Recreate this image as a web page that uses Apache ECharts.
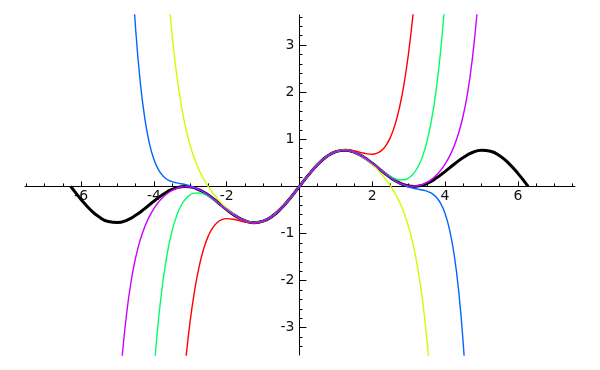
<!DOCTYPE html>
<html>
<head>
<meta charset="utf-8">
<script src="https://cdn.jsdelivr.net/npm/echarts@6/dist/echarts.min.js"></script>
<style>html,body{margin:0;padding:0;background:#fff}#c{width:600px;height:370px}</style>
</head>
<body>
<div id="c"></div>
<script>
// ---- data ----
var xMajorTicks = [-6, -4, -2, 2, 4, 6];
var xMinorTicks = [-7.5,-7,-6.5,-5.5,-5,-4.5,-3.5,-3,-2.5,-1.5,-1,-0.5,0.5,1,1.5,2.5,3,3.5,4.5,5,5.5,6.5,7,7.5];
var yMajorTicks = [-3, -2, -1, 1, 2, 3];
var yMinorTicks = [-3.4,-3.2,-2.8,-2.6,-2.4,-2.2,-1.8,-1.6,-1.4,-1.2,-0.8,-0.6,-0.4,-0.2,0.2,0.4,0.6,0.8,1.2,1.4,1.6,1.8,2.2,2.4,2.6,2.8,3.2,3.4,3.6];

var blackX = [-6.2832,-6.25,-6,-5.75,-5.5,-5.25,-5,-4.75,-4.5,-4.25,-4,-3.75,-3.5,-3.25,-3.1416,-3,-2.75,-2.5,-2.25,-2,-1.75,-1.5,-1.25,-1,-0.75,-0.5,-0.25,0,0.25,0.5,0.75,1,1.25,1.5,1.75,2,2.25,2.5,2.75,3,3.1416,3.25,3.5,3.75,4,4.25,4.5,4.75,5,5.25,5.5,5.75,6,6.25,6.2832];
var blackY = [0,-0.0332,-0.2766,-0.4904,-0.6521,-0.7468,-0.7682,-0.7198,-0.6141,-0.4710,-0.3149,-0.1712,-0.0625,-0.0059,0,-0.0100,-0.0742,-0.1887,-0.3355,-0.4913,-0.6307,-0.7299,-0.7696,-0.7385,-0.6343,-0.4645,-0.2455,0,0.2455,0.4645,0.6343,0.7385,0.7696,0.7299,0.6307,0.4913,0.3355,0.1887,0.0742,0.0100,0,0.0059,0.0625,0.1712,0.3149,0.4710,0.6141,0.7198,0.7682,0.7468,0.6521,0.4904,0.2766,0.0332,0];

var redX = [-3.25,-3.125,-3,-2.875,-2.75,-2.625,-2.5,-2.375,-2.25,-2.125,-2,-1.75,-1.5,-1.25,-1,-0.75,-0.5,-0.25,0,0.25,0.5,0.75,1,1.25,1.5,1.75,2,2.125,2.25,2.375,2.5,2.625,2.75,2.875,3,3.125,3.25];
var redY = [-4.7576,-3.6925,-2.8453,-2.1844,-1.6811,-1.3092,-1.0453,-0.8684,-0.7598,-0.7029,-0.6833,-0.7083,-0.7569,-0.7773,-0.7401,-0.6345,-0.4645,-0.2455,0,0.2455,0.4645,0.6345,0.7401,0.7773,0.7569,0.7083,0.6833,0.7029,0.7598,0.8684,1.0453,1.3092,1.6811,2.1844,2.8453,3.6925,4.7576];

var yellowX = [-3.625,-3.5,-3.375,-3.25,-3.125,-3,-2.875,-2.75,-2.625,-2.5,-2.375,-2.25,-2.125,-2,-1.75,-1.5,-1.25,-1,-0.75,-0.5,-0.25,0,0.25,0.5,0.75,1,1.25,1.5,1.75,2,2.125,2.25,2.375,2.5,2.625,2.75,2.875,3,3.125,3.25,3.375,3.5,3.625];
var yellowY = [4.3300,3.2294,2.3838,1.7373,1.2430,0.8634,0.5688,0.3359,0.1472,-0.0103,-0.1456,-0.2647,-0.3711,-0.4663,-0.6231,-0.7279,-0.7692,-0.7384,-0.6343,-0.4645,-0.2455,0,0.2455,0.4645,0.6343,0.7384,0.7692,0.7279,0.6231,0.4663,0.3711,0.2647,0.1456,0.0103,-0.1472,-0.3359,-0.5688,-0.8634,-1.2430,-1.7373,-2.3838,-3.2294,-4.3300];

var greenX = [-4.125,-4,-3.875,-3.75,-3.625,-3.5,-3.375,-3.25,-3.125,-3,-2.875,-2.75,-2.625,-2.5,-2.25,-2,-1.75,-1.5,-1.25,-1,-0.75,-0.5,-0.25,0,0.25,0.5,0.75,1,1.25,1.5,1.75,2,2.25,2.5,2.625,2.75,2.875,3,3.125,3.25,3.375,3.5,3.625,3.75,3.875,4,4.125];
var greenY = [-5.4528,-3.9691,-2.8494,-2.0134,-1.3957,-0.9457,-0.6258,-0.4057,-0.2625,-0.1792,-0.1420,-0.1405,-0.1663,-0.2123,-0.3430,-0.4934,-0.6312,-0.7299,-0.7696,-0.7385,-0.6343,-0.4645,-0.2455,0,0.2455,0.4645,0.6343,0.7385,0.7696,0.7299,0.6312,0.4934,0.3430,0.2123,0.1663,0.1405,0.1420,0.1792,0.2625,0.4057,0.6258,0.9457,1.3957,2.0134,2.8494,3.9691,5.4528];

var blueX = [-4.75,-4.625,-4.5,-4.375,-4.25,-4.125,-4,-3.875,-3.75,-3.625,-3.5,-3.375,-3.25,-3.125,-3,-2.75,-2.5,-2.25,-2,-1.75,-1.5,-1.25,-1,-0.75,-0.5,-0.25,0,0.25,0.5,0.75,1,1.25,1.5,1.75,2,2.25,2.5,2.75,3,3.125,3.25,3.375,3.5,3.625,3.75,3.875,4,4.125,4.25,4.375,4.5,4.625,4.75];
var blueY = [7.0800,4.9097,3.3376,2.2234,1.4484,0.9223,0.5754,0.3554,0.2210,0.1432,0.1004,0.0754,0.0573,0.0382,0.0127,-0.0668,-0.1865,-0.3349,-0.4912,-0.6307,-0.7299,-0.7696,-0.7385,-0.6343,-0.4645,-0.2455,0,0.2455,0.4645,0.6343,0.7385,0.7696,0.7299,0.6307,0.4912,0.3349,0.1865,0.0668,-0.0127,-0.0382,-0.0573,-0.0754,-0.1004,-0.1432,-0.2210,-0.3554,-0.5754,-0.9223,-1.4484,-2.2234,-3.3376,-4.9097,-7.0800];

var purpleX = [-5,-4.875,-4.75,-4.625,-4.5,-4.375,-4.25,-4.125,-4,-3.875,-3.75,-3.625,-3.5,-3.375,-3.25,-3.125,-3,-2.75,-2.5,-2.25,-2,-1.75,-1.5,-1.25,-1,-0.75,-0.5,-0.25,0,0.25,0.5,0.75,1,1.25,1.5,1.75,2,2.25,2.5,2.75,3,3.125,3.25,3.375,3.5,3.625,3.75,3.875,4,4.125,4.25,4.375,4.5,4.625,4.75,4.875,5];
var purpleY = [-4.9738,-3.6563,-2.7124,-2.0138,-1.5112,-1.1386,-0.8580,-0.6423,-0.4733,-0.3386,-0.2322,-0.1485,-0.0844,-0.0398,-0.0132,-0.0042,-0.0122,-0.0749,-0.1888,-0.3355,-0.4913,-0.6307,-0.7299,-0.7696,-0.7385,-0.6343,-0.4645,-0.2455,0,0.2455,0.4645,0.6343,0.7385,0.7696,0.7299,0.6307,0.4913,0.3355,0.1888,0.0749,0.0122,0.0042,0.0132,0.0398,0.0844,0.1485,0.2322,0.3386,0.4733,0.6423,0.8580,1.1386,1.5112,2.0138,2.7124,3.6563,4.9738];

var xMin = -7.54, xMax = 7.57, yMin = -3.58, yMax = 3.64;

// ---- layout ----
var W = 600, H = 370, gLeft = 25, gRight = 25, gTop = 15, gBottom = 15;
var gW = W - gLeft - gRight, gH = H - gTop - gBottom;
var zeroY = gTop + gH * yMax / (yMax - yMin);
var zeroX = gLeft + gW * (0 - xMin) / (xMax - xMin);
var xOffset = -(gTop + gH - zeroY);
var yOffset = -(zeroX - gLeft);

function pairs(xs, ys) { return xs.map(function (x, i) { return [x, ys[i]]; }); }
function line(name, xs, ys, color, width, z) {
  return { name: name, type: 'line', data: pairs(xs, ys), showSymbol: false, smooth: true,
    xAxisIndex: 0, yAxisIndex: 0, z: z, animation: false, clip: true,
    lineStyle: { color: color, width: width } };
}
var labelStyle = { color: '#111', fontSize: 14, fontFamily: 'DejaVu Sans' };
var chart = echarts.init(document.getElementById('c'), null, { renderer: 'canvas' });
chart.setOption({
  animation: false,
  grid: { left: gLeft, right: gRight, top: gTop, bottom: gBottom, containLabel: false },
  xAxis: [
    { type: 'value', min: xMin, max: xMax, position: 'bottom', offset: xOffset, splitLine: { show: false },
      axisLine: { onZero: false, lineStyle: { color: '#000', width: 1 } },
      axisTick: { inside: true, length: 5, customValues: xMajorTicks, lineStyle: { color: '#000' } },
      axisLabel: Object.assign({ customValues: xMajorTicks, margin: 3, formatter: function (v) { return String(v); } }, labelStyle) },
    { type: 'value', min: xMin, max: xMax, position: 'bottom', offset: xOffset, splitLine: { show: false },
      axisLine: { show: false, onZero: false },
      axisTick: { inside: true, length: 3, customValues: xMinorTicks, lineStyle: { color: '#000' } },
      axisLabel: { show: false } }
  ],
  yAxis: [
    { type: 'value', min: yMin, max: yMax, position: 'left', offset: yOffset, splitLine: { show: false },
      axisLine: { onZero: false, lineStyle: { color: '#000', width: 1 } },
      axisTick: { inside: true, length: 7, customValues: yMajorTicks, lineStyle: { color: '#000' } },
      axisLabel: Object.assign({ customValues: yMajorTicks, margin: 5, formatter: function (v) { return String(v); } }, labelStyle) },
    { type: 'value', min: yMin, max: yMax, position: 'left', offset: yOffset, splitLine: { show: false },
      axisLine: { show: false, onZero: false },
      axisTick: { inside: true, length: 3, customValues: yMinorTicks, lineStyle: { color: '#000' } },
      axisLabel: { show: false } }
  ],
  series: [
    line('f', blackX, blackY, '#000000', 3, 2),
    line('P5', redX, redY, '#ff0000', 1.4, 3),
    line('P7', yellowX, yellowY, '#ccff00', 1.4, 4),
    line('P9', greenX, greenY, '#00ff66', 1.4, 5),
    line('P11', blueX, blueY, '#0066ff', 1.4, 6),
    line('P13', purpleX, purpleY, '#cc00ff', 1.4, 7)
  ]
});
</script>
</body>
</html>
